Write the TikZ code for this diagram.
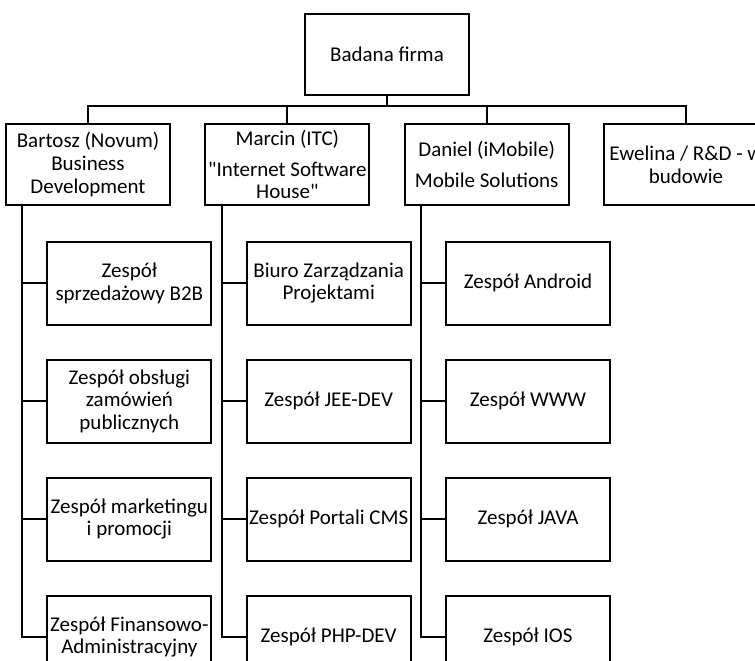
\documentclass[tikz,border=0pt]{standalone}
\usepackage{fontspec}
\setmainfont{Carlito}[Ligatures=TeXOff]
\usetikzlibrary{positioning}

\begin{document}
\begin{tikzpicture}[node distance=25pt and 25pt,
    box/.style={draw, line width=1.5pt, minimum width=123pt, minimum height=61pt, inner xsep=0pt, align=center, font=\fontsize{15.75}{16.9}\selectfont},
    team/.style={box, minimum height=62pt},
    link/.style={line width=1.5pt}]
    \path[use as bounding box, clip] (-290.25pt,40.9pt) rectangle (276pt,-454.1pt);
    \node [box] (firma) {Badana firma};
    \node [box, below left=20pt and 12.5pt of firma.south] (marcin) {Marcin (ITC)\\[6pt] "Internet Software\\ House"};
    \node [box, below right=20pt and 12.5pt of firma.south] (daniel) {Daniel (iMobile)\\[6pt] Mobile Solutions};
    \node [box, left=of marcin] (bartosz) {Bartosz (Novum)\\ Business\\ Development};
    \node [box, right=of daniel] (ewelina) {Ewelina / R\&D - w\\ budowie};

    \node [team, below right=26pt and 31pt of bartosz.south west] (b1) {Zespół\\ sprzedażowy B2B};
    \node [team, below=of b1] (b2) {Zespół obsługi\\ zamówień\\ publicznych};
    \node [team, below=of b2] (b3) {Zespół marketingu\\ i promocji};
    \node [team, below=of b3] (b4) {Zespół Finansowo-\\ Administracyjny};

    \node [team, below right=26pt and 31pt of marcin.south west] (m1) {Biuro Zarządzania\\ Projektami};
    \node [team, below=of m1] (m2) {Zespół JEE-DEV};
    \node [team, below=of m2] (m3) {Zespół Portali CMS};
    \node [team, below=of m3] (m4) {Zespół PHP-DEV};

    \node [team, below right=26pt and 31pt of daniel.south west] (d1) {Zespół Android};
    \node [team, below=of d1] (d2) {Zespół WWW};
    \node [team, below=of d2] (d3) {Zespół JAVA};
    \node [team, below=of d3] (d4) {Zespół IOS};

    \draw [link] (firma.south) -- ++(0,-7.5pt) coordinate (bus);
    \draw [link] (bartosz.north) |- (bus) -| (ewelina.north);
    \draw [link] (marcin.north) -- (marcin.north |- bus);
    \draw [link] (daniel.north) -- (daniel.north |- bus);

    \coordinate (bt) at ([xshift=13pt]bartosz.south west);
    \coordinate (mt) at ([xshift=13pt]marcin.south west);
    \coordinate (dt) at ([xshift=13pt]daniel.south west);
    \draw [link] (bt) |- (b4.west);
    \draw [link] (b1.west) -- (b1.west -| bt);
    \draw [link] (b2.west) -- (b2.west -| bt);
    \draw [link] (b3.west) -- (b3.west -| bt);
    \draw [link] (mt) |- (m4.west);
    \draw [link] (m1.west) -- (m1.west -| mt);
    \draw [link] (m2.west) -- (m2.west -| mt);
    \draw [link] (m3.west) -- (m3.west -| mt);
    \draw [link] (dt) |- (d4.west);
    \draw [link] (d1.west) -- (d1.west -| dt);
    \draw [link] (d2.west) -- (d2.west -| dt);
    \draw [link] (d3.west) -- (d3.west -| dt);
\end{tikzpicture}
\end{document}
